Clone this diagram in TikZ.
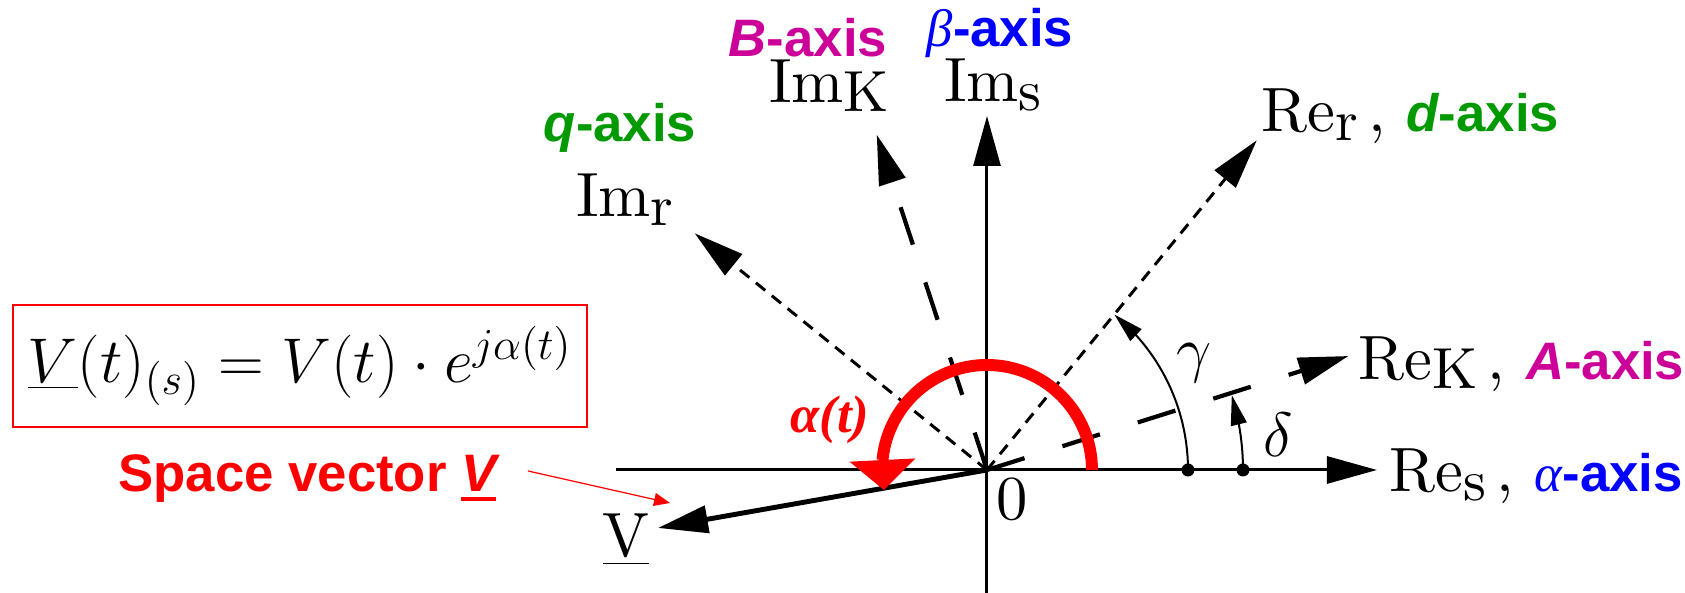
\RequirePackage{fix-cm}
\documentclass[tikz,border=0pt]{standalone}
\usepackage{fontspec}
\setsansfont{Liberation Sans}
\newfontfamily\timesfont{Liberation Serif}
\newfontfamily\cmfont{lmroman10-regular}[Extension=.otf]
\usetikzlibrary{arrows.meta,bending}
\definecolor{axgreen}{RGB}{0,153,0}
\definecolor{axmagenta}{RGB}{204,0,153}
\definecolor{axblue}{RGB}{0,0,255}
\newcommand{\ax}[2]{#1\raisebox{-2.4pt}{\fontsize{16.5}{16.5}\selectfont #2}}
\newcommand{\axlat}[1]{{\fontsize{15}{17}\selectfont\sffamily\bfseries{\itshape #1}-axis}}
\newcommand{\axgrk}[1]{{\fontsize{15}{17}\selectfont{\timesfont\itshape #1}\sffamily\bfseries -axis}}
\newcommand{\thickul}[1]{\setbox0\hbox{#1}\rlap{\rule[-2.6pt]{\wd0}{1.1pt}}\box0}
\begin{document}
\begin{tikzpicture}[font=\cmfont\fontsize{17.8}{19}\selectfont, line width=0.85pt,
  >={Triangle[length=5mm,width=2.7mm]},
  lbl/.style={inner sep=0pt, anchor=base},
  thindash/.style={->, dash pattern=on 3.4pt off 2.4pt},
  longdash/.style={->, line width=1.2pt, dash pattern=on 11.2pt off 11.3pt},
  angarc/.style={line width=0.57pt, -{Triangle[length=3mm,width=1.6mm]}}]
  \useasboundingbox (-9.87,-1.23) rectangle (6.98,4.70);
  \coordinate (O) at (0,0);
  \coordinate (resl) at (-3.71,0);
  \coordinate (res) at (3.90,0);
  \coordinate (imsl) at (0,-1.23);
  \coordinate (ims) at (0,3.54);
  \coordinate (rer) at (50.7:4.26);
  \coordinate (imr) at (141:3.76);
  \coordinate (rek) at (17.5:3.79);
  \coordinate (imk) at (108.2:3.53);
  \coordinate (vec) at (-3.29,-0.58);
  \coordinate (vpoint) at (-3.17,-0.33);

  \draw[->] (resl) -- (res);
  \draw[->] (imsl) -- (ims);
  \draw[thindash] (O) -- (rer);
  \draw[thindash] (O) -- (imr);
  \draw[longdash] (O) -- (rek);
  \draw[longdash] (O) -- (imk);
  \draw[->, line width=1.4pt] (O) -- (vec);
  \draw[angarc] (2.01,0) arc[start angle=0, end angle=50.7, radius=2.01];
  \draw[angarc] (2.56,0) arc[start angle=0, end angle=17, radius=2.56];
  \fill (2.01,0) circle (0.065) (2.56,0) circle (0.065);
  \draw[red, line width=3.4pt, -{Triangle[length=3mm,width=6.6mm,line width=0pt]}]
    (1.05,0) arc[start angle=0, end angle=191, radius=1.05];

  \node[lbl] (imslbl) at (0.06,3.68) {\ax{Im}{s}};
  \node[lbl, text=axblue] (betaax) at (0.13,4.23) {\axgrk{β}};
  \node[lbl] (imklbl) at (-1.58,3.67) {\ax{Im}{K}};
  \node[lbl, text=axmagenta] (bax) at (-1.79,4.13) {\axlat{B}};
  \node[lbl] (imrlbl) at (-3.62,2.53) {\ax{Im}{r}};
  \node[lbl, text=axgreen] (qax) at (-3.67,3.28) {\axlat{q}};
  \node[lbl, anchor=base west] (rerlbl) at (2.73,3.38) {\ax{Re}{r}\,, \textcolor{axgreen}{\axlat{d}}};
  \node[lbl, anchor=base west] (reklbl) at (3.70,0.90) {\ax{Re}{K}\,, \textcolor{axmagenta}{\axlat{A}}};
  \node[lbl, anchor=base west] (reslbl) at (4.01,-0.22) {\ax{Re}{s}\,, \textcolor{axblue}{\axgrk{α}}};
  \node[lbl] (vlbl) at (-3.61,-0.87) {\underline{V}};
  \node[lbl] (zero) at (0.25,-0.50) {0};
  \node[inner sep=0pt] (gam) at (2.07,1.07) {$\gamma$};
  \node[inner sep=0pt] (del) at (2.91,0.35) {$\delta$};
  \node[lbl, text=red, font=\timesfont\fontsize{15}{17}\selectfont\bfseries\itshape] (alp) at (-1.57,0.37) {α(t)};
  \node[draw=red, line width=0.4pt, minimum width=5.74cm, minimum height=1.22cm, inner sep=0pt,
    font=\fontsize{18}{20}\selectfont] (form) at (-6.87,1.04) {$\underline{V}(t)_{(s)} = V(t)\cdot e^{j\alpha(t)}$};
  \node[lbl, anchor=base west, text=red, font=\fontsize{15}{17}\selectfont\sffamily\bfseries] (spv) at (-8.70,-0.22) {Space vector \thickul{\itshape V}};
  \draw[red, line width=0.35pt, -{Triangle[length=1.6mm,width=1.3mm]}] ([shift={(0.30,0.21)}]spv.base east) -- (vpoint);
\end{tikzpicture}
\end{document}
